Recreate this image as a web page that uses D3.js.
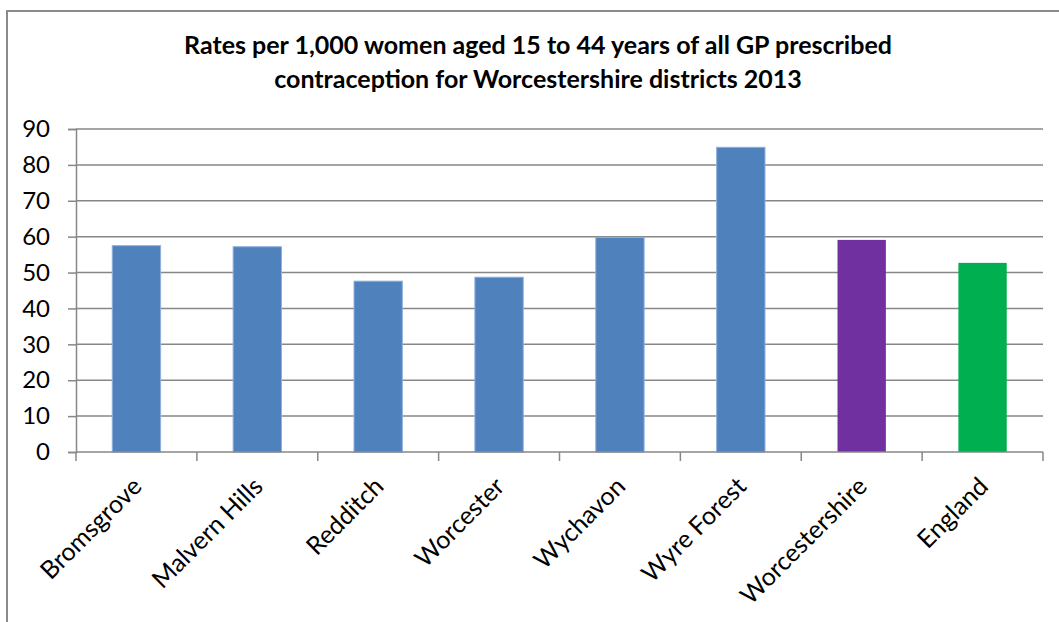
<!DOCTYPE html>
<html>
<head>
<meta charset="utf-8">
<script src="https://cdn.jsdelivr.net/npm/d3@7"></script>
<style>
  body { margin: 0; background: #fff; }
  text { font-family: Lato, "Open Sans", sans-serif; fill: #000; }
</style>
</head>
<body>
<div class="vis-barchart"></div>
<script>
// chart data
const districts = ['Bromsgrove', 'Malvern Hills', 'Redditch', 'Worcester', 'Wychavon', 'Wyre Forest', 'Worcestershire', 'England'];
const rates = [57.5, 57.2, 47.6, 48.7, 59.8, 84.9, 59.1, 52.7];
const areaLevel = ['district', 'district', 'district', 'district', 'district', 'district', 'county', 'national'];
const yTicks = [0, 10, 20, 30, 40, 50, 60, 70, 80, 90];
const titleLines = ['Rates per 1,000 women aged 15 to 44 years of all GP prescribed',
                    'contraception for Worcestershire districts 2013'];

const data = districts.map((d, i) => ({name: d, value: rates[i], level: areaLevel[i]}));

const W = 1059, H = 622;
const plot = {left: 76, right: 1043, top: 129, bottom: 452};

const svg = d3.select('.vis-barchart')
  .append('svg')
    .attr('width', W)
    .attr('height', H);

// outer chart border (right and bottom fall off the picture)
svg.append('rect')
  .attr('x', 7).attr('y', 11)
  .attr('width', W + 20).attr('height', H + 20)
  .attr('fill', 'none')
  .attr('stroke', '#8a8a8a')
  .attr('stroke-width', 2);

// title
svg.append('g').selectAll('text')
  .data(titleLines)
  .enter()
  .append('text')
    .attr('x', 538)
    .attr('y', (d, i) => 54 + i * 34)
    .attr('text-anchor', 'middle')
    .style('font-size', '25px')
    .style('font-weight', 'bold')
    .text(d => d);

const x = d3.scaleBand()
  .domain(districts)
  .range([plot.left, plot.right])
  .paddingInner(0.6)
  .paddingOuter(0.3);

const y = d3.scaleLinear()
  .domain([0, 90])
  .range([plot.bottom, plot.top]);

const color = d3.scaleOrdinal()
  .domain(['district', 'county', 'national'])
  .range(['#4f81bd', '#7030a0', '#00b050']);

// gridlines
svg.append('g')
  .selectAll('line')
  .data(yTicks.filter(t => t > 0))
  .enter()
  .append('line')
    .attr('x1', plot.left).attr('x2', plot.right)
    .attr('y1', d => y(d)).attr('y2', d => y(d))
    .attr('stroke', '#878787')
    .attr('stroke-width', 1.5);

// bars
svg.append('g')
  .selectAll('rect')
  .data(data)
  .enter()
  .append('rect')
    .attr('x', d => x(d.name))
    .attr('y', d => y(d.value))
    .attr('width', x.bandwidth())
    .attr('height', d => y(0) - y(d.value))
    .attr('fill', d => color(d.level))
    .attr('stroke', d => d.level === 'district' ? '#8fb1dc' : 'none')
    .attr('stroke-width', 1);

// y axis
const yAxis = svg.append('g')
  .attr('transform', 'translate(' + plot.left + ',0)')
  .call(d3.axisLeft(y).tickValues(yTicks).tickSize(8).tickPadding(18));
yAxis.select('.domain').attr('stroke', '#878787').attr('stroke-width', 1.5);
yAxis.selectAll('.tick line').attr('stroke', '#878787').attr('stroke-width', 1.5);
yAxis.selectAll('.tick text')
  .style('font-size', '24px')
  .style('font-family', 'Lato, "Open Sans", sans-serif')
  .attr('fill', '#000');

// x axis: ticks on the category boundaries
const bounds = districts.map(d => x(d) - x.step() * x.paddingInner() / 2);
bounds.push(plot.right);
const xAxisG = svg.append('g');
xAxisG.append('line')
  .attr('x1', plot.left).attr('x2', plot.right)
  .attr('y1', y(0)).attr('y2', y(0))
  .attr('stroke', '#878787').attr('stroke-width', 1.5);
xAxisG.selectAll('.xtick')
  .data(bounds)
  .enter()
  .append('line')
    .attr('class', 'xtick')
    .attr('x1', d => d).attr('x2', d => d)
    .attr('y1', y(0)).attr('y2', y(0) + 9)
    .attr('stroke', '#878787').attr('stroke-width', 1.5);

// rotated category labels
xAxisG.selectAll('.xlabel')
  .data(districts)
  .enter()
  .append('text')
    .attr('class', 'xlabel')
    .attr('text-anchor', 'end')
    .attr('transform', d => 'translate(' + (x(d) + x.bandwidth() / 2 + 7) + ',' + 488 + ') rotate(-45)')
    .style('font-size', '25px')
    .text(d => d);
</script>
</body>
</html>
